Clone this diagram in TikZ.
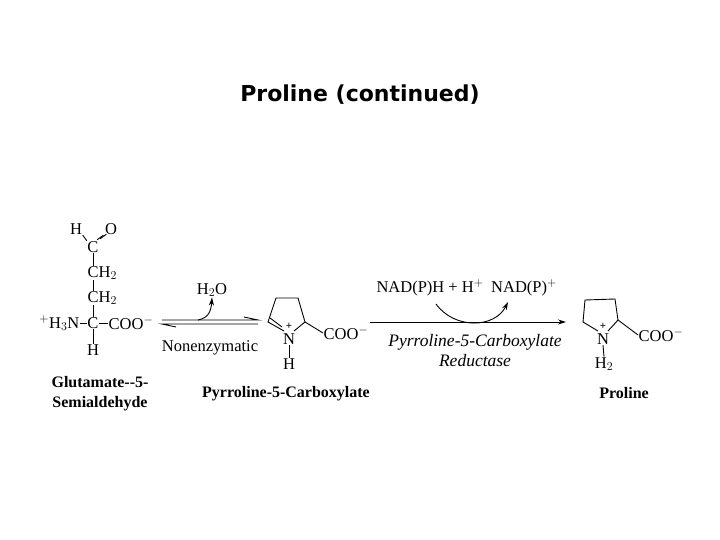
\documentclass[tikz,border=0pt]{standalone}
\usepackage{fontspec}
\setmainfont{Liberation Serif}
\newfontfamily\titlefont{DejaVu Sans}
\usetikzlibrary{arrows.meta}
\begin{document}
\begin{tikzpicture}[x=1pt,y=-1pt,
  chem/.style={inner sep=0.5pt,font=\fontsize{16.5}{17}\selectfont},
  lbl/.style={inner sep=0pt,font=\fontsize{16}{20}\selectfont\bfseries,align=center},
  bond/.style={line width=0.9pt},
  arr/.style={line width=0.9pt,-{Stealth[length=8pt,width=5pt]}}]
\useasboundingbox (0,0) rectangle (720,540);
\node[inner sep=0,font=\titlefont\bfseries\fontsize{22}{26}\selectfont] (title) at (360,95) {Proline (continued)};
% Glutamate semialdehyde
\node[chem] (h1) at (76,229) {H};
\node[chem] (o1) at (111,229) {O};
\node[chem] (c1) at (93,247) {C};
\node[chem,anchor=west] (ch2a) at (87,273) {CH$_2$};
\node[chem,anchor=west] (ch2b) at (87,298) {CH$_2$};
\node[chem] (ca) at (93,323) {C};
\node[chem,anchor=east] (n1) at (80,323) {$^{+}$H$_3$N};
\node[chem,anchor=west] (coo1) at (108,323) {COO$^{-}$};
\node[chem] (h2) at (93,350) {H};
\draw[bond] (h1.south east) -- (c1.north west);
\draw[bond] ([xshift=-1pt]o1.south west) -- ([xshift=-2pt,yshift=1pt]c1.north east);
\draw[bond] ([xshift=2pt,yshift=1pt]o1.south west) -- ([xshift=1pt,yshift=2pt]c1.north east);
\draw[bond] (c1.south) -- (c1.south |- ch2a.north);
\draw[bond] (c1.south |- ch2a.south) -- (c1.south |- ch2b.north);
\draw[bond] (c1.south |- ch2b.south) -- (ca.north);
\draw[bond] (n1.east) -- (ca.west);
\draw[bond] (ca.east) -- (coo1.west);
\draw[bond] (ca.south) -- (h2.north);
\node[lbl] (glu) at (100,394) {Glutamate{-}{-}5-\\Semialdehyde};
% equilibrium
\coordinate (e1) at (162,320); \coordinate (e2) at (258,320);
\coordinate (e3) at (162,324); \coordinate (e4) at (258,324);
\draw[line width=0.9pt] (e1) -- (e2) -- ++(-14,-3);
\draw[line width=0.9pt] (e4) -- (e3) -- ++(14,3);
\node[chem] (h2o) at (212,290) {H$_2$O};
\coordinate (w0) at (198,320);
\draw[arr] (w0) .. controls (208,318) and (211,312) .. (h2o.south);
\node[chem] (nonenz) at (210,348) {Nonenzymatic};
% pyrroline
\node[chem] (np) at (289,339) {N};
\node[inner sep=0,font=\fontsize{11}{11}\selectfont\bfseries] (pp) at (289,326) {+};
\coordinate (pa) at (268,322); \coordinate (pb) at (276,298);
\coordinate (pc) at (298,298); \coordinate (pd) at (305,322);
\coordinate (pn1) at (284,331); \coordinate (pn2) at (294,331);
\draw[bond] (pn1) -- (pa) -- (pb) -- (pc) -- (pd) -- (pn2);
\draw[bond] ([xshift=2pt,yshift=4pt]pa) -- ([xshift=-2pt,yshift=4pt]pn1);
\node[chem,anchor=west] (coo2) at (323,333) {COO$^{-}$};
\draw[bond] (pd) -- (coo2.west);
\node[chem] (hp) at (289,364) {H};
\draw[bond] (np.south) -- (hp.north);
\node[lbl] (p5c) at (286,394) {Pyrroline-5-Carboxylate};
% main arrow
\coordinate (m1) at (370,322); \coordinate (m2) at (566,322);
\draw[arr] (m1) -- (m2);
\node[chem] (nadh) at (430,288) {NAD(P)H + H$^{+}$};
\node[chem] (nad) at (524,288) {NAD(P)$^{+}$};
\coordinate (k0) at (436,304);
\draw[arr] (k0) .. controls (455,330) and (495,328) .. (508,302);
\node[chem,font=\fontsize{17.5}{20}\selectfont\itshape,align=center] (enz) at (475,351) {Pyrroline-5-Carboxylate\\Reductase};
% proline
\node[chem] (npr) at (603,339) {N};
\node[inner sep=0,font=\fontsize{11}{11}\selectfont\bfseries] (ppr) at (603,326) {+};
\coordinate (qa) at (583,322); \coordinate (qb) at (585,300);
\coordinate (qc) at (615,299); \coordinate (qd) at (618,320);
\coordinate (qn1) at (598,331); \coordinate (qn2) at (608,331);
\draw[bond] (qn1) -- (qa) -- (qb) -- (qc) -- (qd) -- (qn2);
\node[chem,anchor=west] (coo3) at (638,335) {COO$^{-}$};
\draw[bond] (qd) -- (coo3.west);
\node[chem] (hpr) at (604,364) {H$_2$};
\draw[bond] (npr.south) -- (hpr.north);
\node[lbl] (pro) at (624,393) {Proline};
\end{tikzpicture}
\end{document}
